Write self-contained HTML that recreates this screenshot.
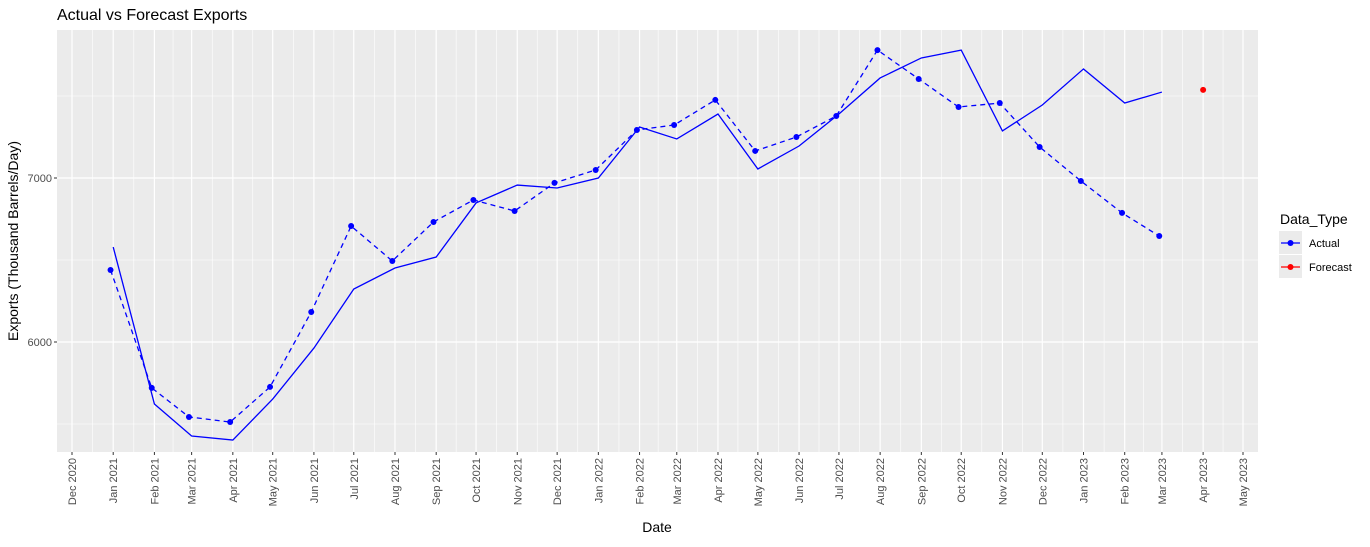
<!DOCTYPE html>
<html><head><meta charset="utf-8"><style>
body{margin:0;background:#fff;font-family:"Liberation Sans",Arial,sans-serif}
svg text{font-family:"Liberation Sans",Arial,sans-serif}
</style></head><body>
<svg id="c" width="1370" height="542" xmlns="http://www.w3.org/2000/svg"></svg>
<script>
const months=["2021-01","2021-02","2021-03","2021-04","2021-05","2021-06","2021-07","2021-08","2021-09","2021-10","2021-11","2021-12","2022-01","2022-02","2022-03","2022-04","2022-05","2022-06","2022-07","2022-08","2022-09","2022-10","2022-11","2022-12","2023-01","2023-02","2023-03"];
const actualLine=[6579,5622,5427,5402,5652,5963,6323,6451,6518,6848,6957,6939,7000,7311,7238,7390,7055,7195,7390,7610,7732,7780,7287,7445,7665,7457,7524];
const actualPoints=[6439,5720,5543,5512,5726,6183,6707,6494,6732,6866,6799,6970,7049,7293,7323,7476,7165,7250,7378,7780,7604,7433,7457,7189,6982,6787,6646];
const forecastMonths=["2023-04"];
const forecastValues=[7537];
const tickMonths=["2020-12","2021-01","2021-02","2021-03","2021-04","2021-05","2021-06","2021-07","2021-08","2021-09","2021-10","2021-11","2021-12","2022-01","2022-02","2022-03","2022-04","2022-05","2022-06","2022-07","2022-08","2022-09","2022-10","2022-11","2022-12","2023-01","2023-02","2023-03","2023-04","2023-05"];
const yTicks=[6000,7000];
const yMinor=[5500,6500,7500];
const MN=["Jan","Feb","Mar","Apr","May","Jun","Jul","Aug","Sep","Oct","Nov","Dec"];

const svg=document.getElementById('c');const NS="http://www.w3.org/2000/svg";
function mk(t,a,p){const e=document.createElementNS(NS,t);for(const k in a)e.setAttribute(k,a[k]);(p||svg).appendChild(e);return e;}
const L=57,R=1258,T=30,B=452;
const d0=Date.UTC(2020,11,1),d1=Date.UTC(2023,4,1);
function dt(s){const [y,m]=s.split('-').map(Number);return Date.UTC(y,m-1,1);}
function x(s){return 72+(dt(s)-d0)/(d1-d0)*1171;}
function xd(v){return 72+(v-d0)/(d1-d0)*1171;}
function y(v){return 342-(v-6000)*0.164;}

const bg=mk('rect',{x:L,y:T,width:R-L,height:B-T,fill:'#ebebeb'});

yMinor.forEach(v=>mk('line',{x1:L,x2:R,y1:y(v),y2:y(v),stroke:'#fff','stroke-width':0.6}));
for(let i=0;i<tickMonths.length-1;i++){const xm=(x(tickMonths[i])+x(tickMonths[i+1]))/2;mk('line',{x1:xm,x2:xm,y1:T,y2:B,stroke:'#fff','stroke-width':0.6});}
mk('line',{x1:x(tickMonths[0])-20,x2:x(tickMonths[0])-20,y1:T,y2:B,stroke:'#fff','stroke-width':0.6});
yTicks.forEach(v=>{mk('line',{x1:L,x2:R,y1:y(v),y2:y(v),stroke:'#fff','stroke-width':1.2});
 mk('line',{x1:L-3,x2:L,y1:y(v),y2:y(v),stroke:'#333'});
 const t=mk('text',{x:L-5,y:y(v)+4,'text-anchor':'end','font-size':11,fill:'#4d4d4d'});t.textContent=v;
 });
tickMonths.forEach(s=>{const xx=x(s);mk('line',{x1:xx,x2:xx,y1:T,y2:B,stroke:'#fff','stroke-width':1.2});
 mk('line',{x1:xx,x2:xx,y1:B,y2:B+3,stroke:'#333'});
 const [yy,m]=s.split('-').map(Number);
 const t=mk('text',{x:0,y:0,transform:`translate(${xx+4},${B+6}) rotate(-90)`,'text-anchor':'end','font-size':11,fill:'#4d4d4d'});
 t.textContent=MN[m-1]+' '+yy;});

const pl=mk('polyline',{points:months.map((s,i)=>x(s)+','+y(actualLine[i])).join(' '),fill:'none',stroke:'#0000ff','stroke-width':1.3});

const off=2*86400000;
const pd=mk('polyline',{points:months.map((s,i)=>xd(dt(s)-off)+','+y(actualPoints[i])).join(' '),fill:'none',stroke:'#0000ff','stroke-width':1.3,'stroke-dasharray':'5,4'});

months.forEach((s,i)=>{const c=mk('circle',{cx:xd(dt(s)-off),cy:y(actualPoints[i]),r:3,fill:'#0000ff'});
 });
forecastMonths.forEach((s,i)=>{const c=mk('circle',{cx:x(s),cy:y(forecastValues[i]),r:3,fill:'#ff0000'});
 });

function txt(a,s,name){const t=mk('text',a);t.textContent=s;return t;}
txt({x:57,y:20,'font-size':16,fill:'#000'},'Actual vs Forecast Exports','chart-title');
txt({x:657,y:532,'font-size':14,'text-anchor':'middle',fill:'#000'},'Date','x-axis-title');
txt({x:0,y:0,transform:`translate(18,${(T+B)/2}) rotate(-90)`,'font-size':14,'text-anchor':'middle',fill:'#000'},'Exports (Thousand Barrels/Day)','y-axis-title');
txt({x:1280,y:224,'font-size':14,fill:'#000'},'Data_Type','legend-title');
const lg=[['Actual','#0000ff',243],['Forecast','#ff0000',267]];
lg.forEach(([n,c,yy])=>{const g=mk('g',{});
 mk('rect',{x:1279,y:yy-12,width:23,height:23,fill:'#ebebeb'},g);
 mk('line',{x1:1281,x2:1300,y1:yy,y2:yy,stroke:c,'stroke-width':1.3},g);
 mk('circle',{cx:1290.5,cy:yy,r:3,fill:c},g);
 const t=mk('text',{x:1309,y:yy+4,'font-size':11,fill:'#000'},g);t.textContent=n;});
</script>
</body></html>
